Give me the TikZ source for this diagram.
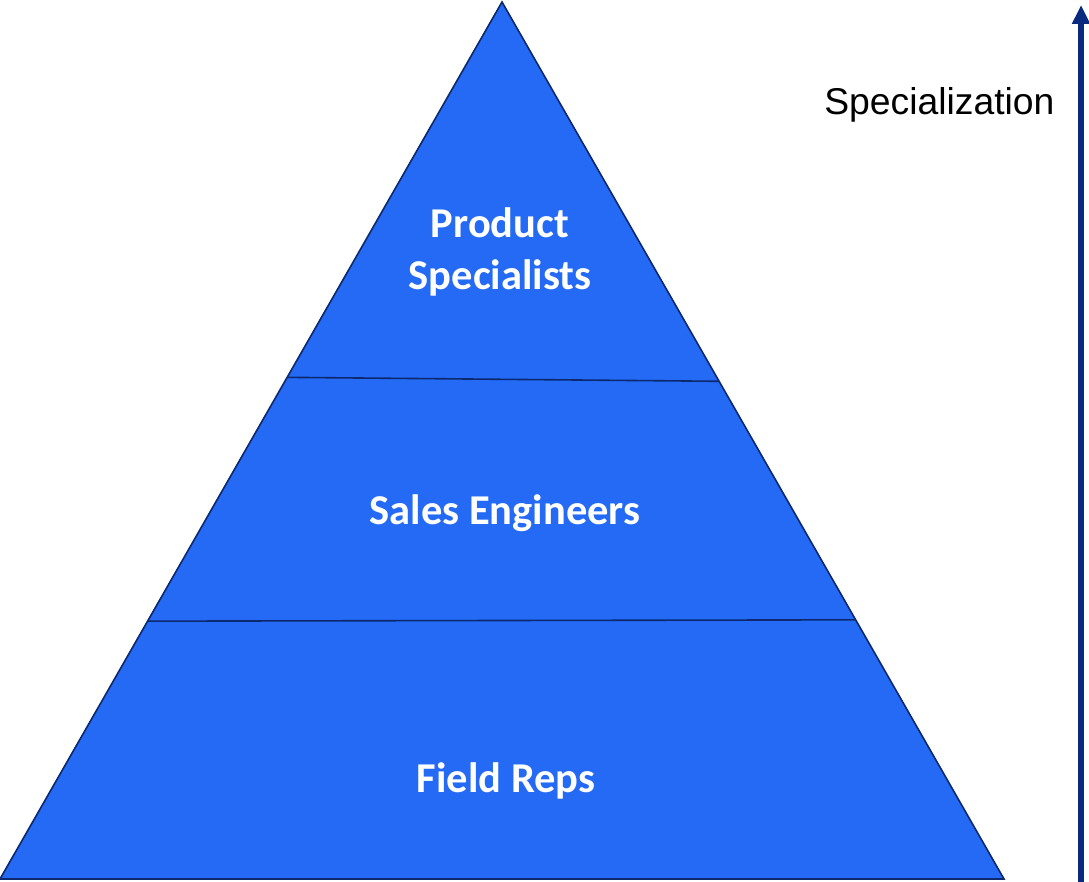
\documentclass[tikz,border=0pt]{standalone}
\usepackage{fontspec}
\usepackage{tikz}
\usetikzlibrary{calc,arrows.meta}
\newfontfamily\tierfont{Carlito}
\newfontfamily\axisfont{Liberation Sans}
\definecolor{tierblue}{RGB}{36,106,245}
\definecolor{edgenavy}{RGB}{12,40,110}
\definecolor{arrownavy}{RGB}{10,42,128}
\tikzset{tier/.style = {text=white, align=center, font=\tierfont\bfseries\fontsize{42.5}{52}\selectfont}}
\tikzset{divider/.style = {draw=edgenavy, line width=1.6pt}}

\begin{document}
\begin{tikzpicture}[x=1pt, y=-1pt]
\useasboundingbox (0,0) rectangle (1089,882);
\coordinate (apex) at (502,2);
\coordinate (bl) at (0,879);
\coordinate (br) at (1004,879);

\path [fill=tierblue, draw=edgenavy, line width=1.6pt, line join=miter] (apex) -- (br) -- (bl) -- cycle;

\coordinate (d1l) at ($(apex)!0.428!(bl)$);
\coordinate (d1r) at ($(apex)!0.4325!(br)$);
\coordinate (d2l) at ($(apex)!0.706!(bl)$);
\coordinate (d2r) at ($(apex)!0.7045!(br)$);
\path [divider] (d1l) -- (d1r);
\path [divider] (d2l) -- (d2r);

\node[tier] (ps) at (500,252) {Product\\Specialists};
\node[tier] (se) at (505,513) {Sales Engineers};
\node[tier] (fr) at (506,781) {Field Reps};

\coordinate (axisbot) at (1081,882);
\coordinate (axistop) at (1081,5);
\path [draw=arrownavy, line width=5.5pt, -{Triangle[length=19pt, width=17pt]}] (axisbot) -- (axistop);
\node[anchor=east, font=\axisfont\fontsize{37.3}{44}\selectfont] (spec) at (1058,105) {Specialization};
\end{tikzpicture}
\end{document}
